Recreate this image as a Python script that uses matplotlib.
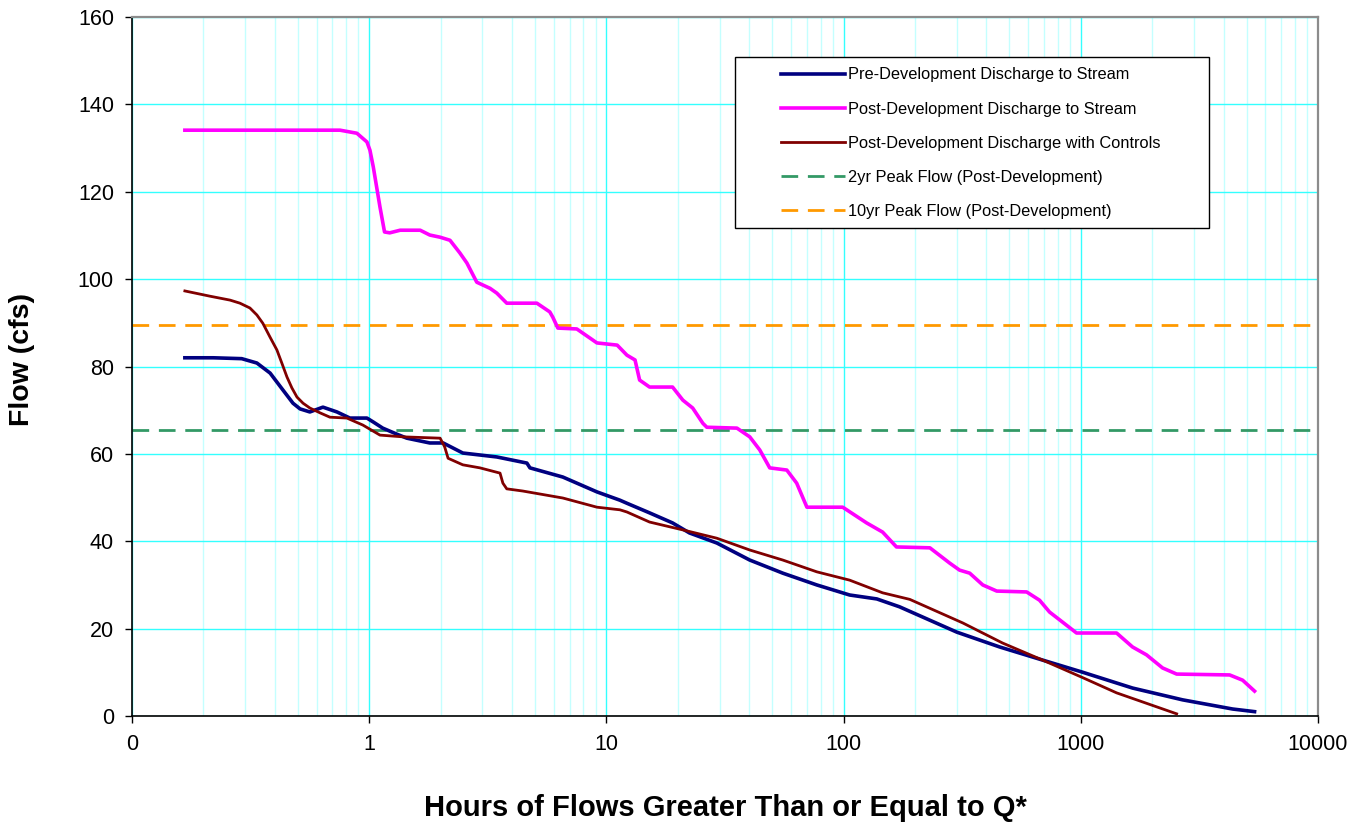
import matplotlib
matplotlib.use("Agg")
import matplotlib.pyplot as plt
from matplotlib.patches import Rectangle
from matplotlib.ticker import FixedLocator, NullFormatter

plt.rcParams['font.family'] = ['Liberation Sans', 'DejaVu Sans']

# hours of flow >= Q, and flow (cfs)
pre_hours = [0.167, 0.22, 0.29, 0.336, 0.382, 0.433, 0.477, 0.511, 0.562, 0.638,
             0.731, 0.829, 0.978, 1.04, 1.14, 1.31, 1.44, 1.80, 2.05, 2.48,
             3.45, 4.62, 4.76, 6.55, 9.12, 11.4, 12.2, 15.2, 19.0, 22.4,
             29.2, 40.2, 55.4, 77.1, 106, 138, 172, 300, 455, 690,
             1007, 1652, 2685, 4365, 5400]
pre_flow = [82.0, 82.0, 81.8, 80.8, 78.5, 74.6, 71.6, 70.3, 69.6, 70.7,
            69.6, 68.2, 68.2, 67.3, 65.9, 64.5, 63.6, 62.5, 62.5, 60.2,
            59.3, 57.9, 56.8, 54.7, 51.3, 49.4, 48.7, 46.5, 44.2, 41.9,
            39.6, 35.7, 32.7, 30.0, 27.7, 26.8, 25.0, 19.2, 15.8, 12.8,
            10.1, 6.4, 3.7, 1.6, 1.0]

post_hours = [0.167, 0.753, 0.887, 0.978, 1.007, 1.04, 1.11, 1.16, 1.22, 1.35,
              1.64, 1.80, 1.99, 2.19, 2.41, 2.58, 2.84, 3.23, 3.45, 3.80,
              5.09, 5.77, 5.94, 6.24, 7.50, 9.12, 11.1, 12.2, 13.2, 13.8,
              15.2, 19.0, 21.0, 23.1, 25.5, 26.5, 35.5, 40.2, 44.3, 48.8,
              57.6, 63.4, 70.0, 99.1, 125, 146, 167, 231, 280, 308,
              340, 386, 442, 591, 670, 738, 837, 959, 1415, 1652,
              1892, 2211, 2535, 4240, 4810, 5400]
post_flow = [134.1, 134.1, 133.4, 131.4, 129.5, 125.7, 116.5, 110.8, 110.6, 111.2,
             111.2, 110.1, 109.6, 108.9, 106.0, 103.7, 99.3, 97.9, 96.8, 94.5,
             94.5, 92.5, 91.3, 88.8, 88.6, 85.4, 84.9, 82.6, 81.5, 76.9,
             75.3, 75.3, 72.3, 70.5, 67.0, 66.1, 65.9, 63.9, 60.9, 56.8,
             56.3, 53.3, 47.8, 47.8, 44.2, 42.1, 38.7, 38.5, 35.0, 33.4,
             32.7, 30.0, 28.6, 28.4, 26.5, 23.8, 21.5, 19.0, 19.0, 15.8,
             14.0, 11.0, 9.6, 9.4, 8.2, 5.7]

ctrl_hours = [0.167, 0.213, 0.259, 0.285, 0.314, 0.336, 0.356, 0.382, 0.408, 0.428,
              0.45, 0.472, 0.496, 0.526, 0.562, 0.620, 0.683, 0.805, 0.94, 1.11,
              1.39, 1.99, 2.08, 2.15, 2.48, 2.93, 3.56, 3.66, 3.80, 4.44,
              6.55, 9.12, 11.4, 12.2, 15.2, 21.0, 29.2, 40.2, 55.4, 77.1,
              106, 146, 190, 318, 468, 690, 1007, 1415, 2535]
ctrl_flow = [97.3, 96.1, 95.2, 94.5, 93.4, 91.8, 89.9, 86.7, 83.8, 80.8,
             77.6, 75.1, 73.0, 71.6, 70.5, 69.4, 68.4, 68.2, 66.6, 64.3,
             63.9, 63.6, 61.6, 59.0, 57.5, 56.8, 55.6, 53.3, 52.0, 51.5,
             49.9, 47.8, 47.2, 46.7, 44.4, 42.6, 40.7, 38.0, 35.7, 33.0,
             31.1, 28.2, 26.7, 21.3, 16.7, 12.8, 8.9, 5.3, 0.5]

peak_2yr = 65.5
peak_10yr = 89.5

x_ticks = [0.1, 1, 10, 100, 1000, 10000]
x_tick_labels = ["0", "1", "10", "100", "1000", "10000"]

fig = plt.figure(figsize=(13.64, 8.23), dpi=100)
ax = fig.add_axes([0.0968, 0.130, 0.8695, 0.8493])

ax.set_xscale("log")
ax.set_xlim(0.1, 10000)
ax.set_ylim(0, 160)

# grid
minor = [m * 10.0 ** e for e in range(-1, 4) for m in range(2, 10)]
ax.xaxis.set_minor_locator(FixedLocator(minor))
ax.xaxis.set_minor_formatter(NullFormatter())
ax.grid(True, which="minor", axis="x", color="#c4ffff", lw=1.0)
ax.grid(True, which="major", axis="x", color="#33ffff", lw=1.0)
ax.grid(True, which="major", axis="y", color="#33ffff", lw=1.0)
ax.set_axisbelow(True)

l_pre, = ax.plot(pre_hours, pre_flow, color="#000080", lw=2.6,
                 label="Pre-Development Discharge to Stream", zorder=4,
                 solid_joinstyle="round")
l_post, = ax.plot(post_hours, post_flow, color="#ff00ff", lw=2.6,
                  label="Post-Development Discharge to Stream", zorder=3,
                  solid_joinstyle="round")
l_ctrl, = ax.plot(ctrl_hours, ctrl_flow, color="#800000", lw=2.0,
                  label="Post-Development Discharge with Controls", zorder=5,
                  solid_joinstyle="round")
l_2yr = ax.axhline(peak_2yr, color="#339966", lw=2.0, dashes=(6, 3.5),
                   label="2yr Peak Flow (Post-Development)", zorder=2)
l_10yr = ax.axhline(peak_10yr, color="#ff9900", lw=2.0, dashes=(6, 3.5),
                    label="10yr Peak Flow (Post-Development)", zorder=2)

ax.set_xticks(x_ticks)
ax.set_xticklabels(x_tick_labels)
ax.set_yticks(range(0, 161, 20))
ax.tick_params(axis="both", which="major", labelsize=15.5, length=5,
               width=1.0, color="black", pad=8)
ax.tick_params(axis="x", which="minor", length=0)

for side in ("left", "bottom"):
    ax.spines[side].set_color("black")
    ax.spines[side].set_linewidth(1.2)
for side in ("top", "right"):
    ax.spines[side].set_color("#8c8c8c")
    ax.spines[side].set_linewidth(1.6)

ax.set_xlabel("Hours of Flows Greater Than or Equal to Q*", fontsize=21,
              fontweight="bold", labelpad=28)
ax.set_ylabel("Flow (cfs)", fontsize=20.5, fontweight="bold")
ax.yaxis.set_label_coords(-0.082, 0.51)

# legend with a square box like the original
ax.add_patch(Rectangle((0.5084, 0.698), 0.3997, 0.2448, transform=ax.transAxes,
                       facecolor="white", edgecolor="black", lw=1.0, zorder=6))
leg = ax.legend(handles=[l_pre, l_post, l_ctrl, l_2yr, l_10yr],
                loc="upper left", bbox_to_anchor=(0.5475, 0.928),
                frameon=False, fontsize=11.8, handlelength=3.9,
                handletextpad=0.15, labelspacing=1.17, borderaxespad=0,
                borderpad=0)
leg.set_zorder(7)

fig.savefig("out.png", dpi=100)
